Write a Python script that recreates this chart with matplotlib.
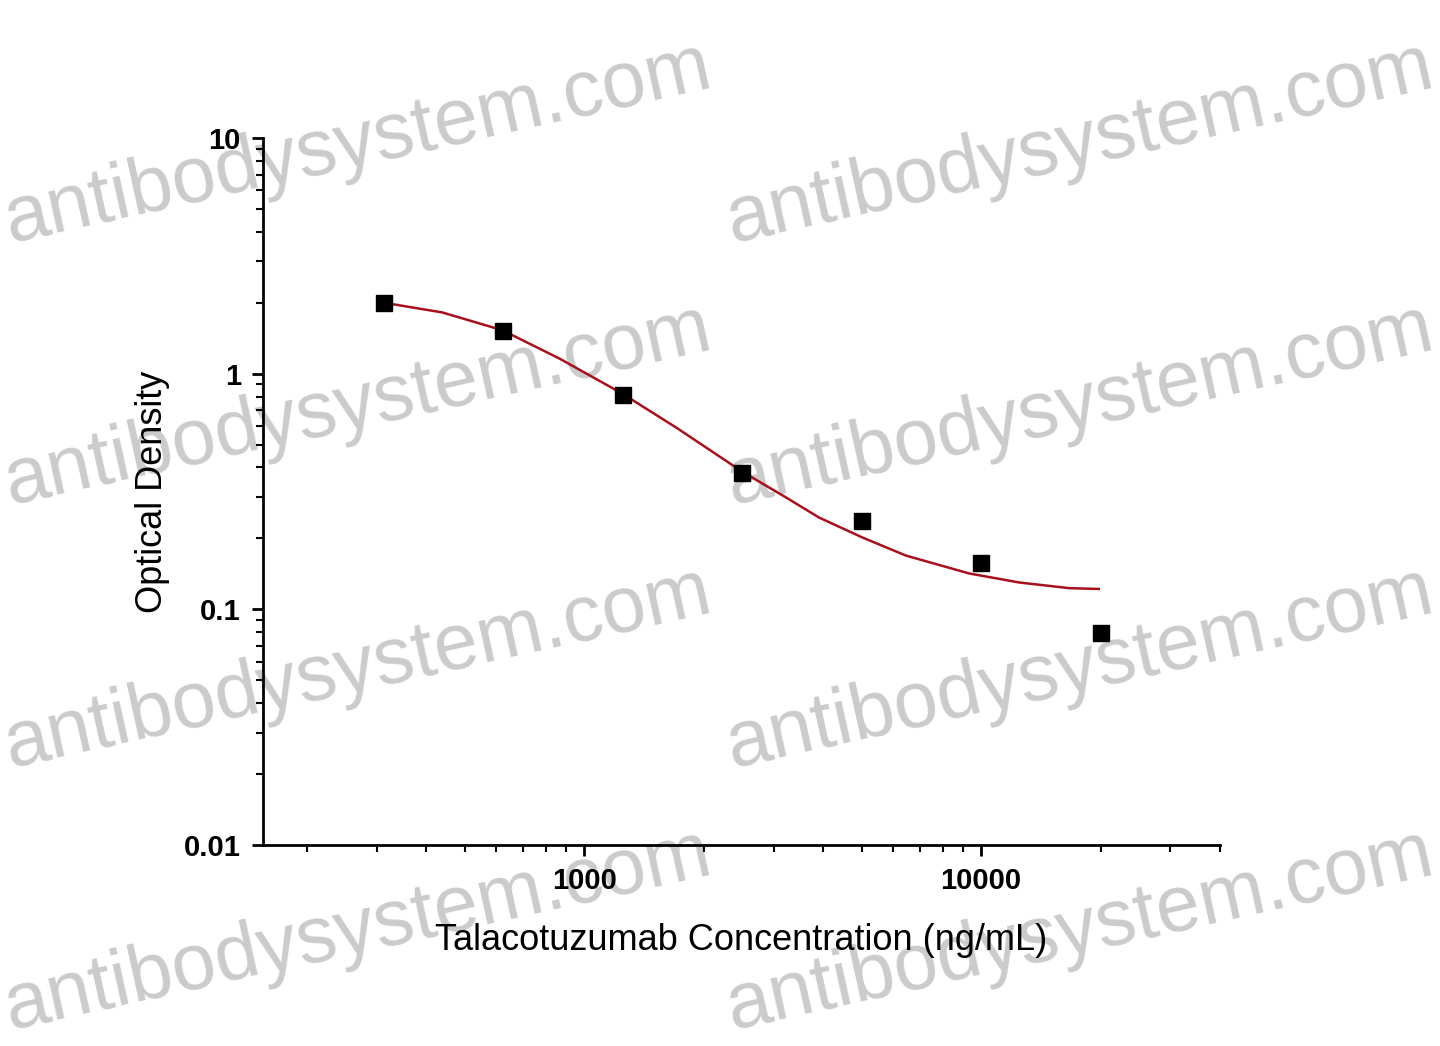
import matplotlib.pyplot as plt
from matplotlib.ticker import NullFormatter

plt.rcParams['font.family'] = ['Liberation Sans', 'DejaVu Sans']

# measured standards
conc = [312.5, 625, 1250, 2500, 5000, 10000, 20000]
od = [2.0, 1.52, 0.81, 0.38, 0.236, 0.157, 0.079]

# fitted curve
fit_conc = [312.5, 438, 621, 865, 1247, 1706, 2500, 3228, 3908, 5015, 6470, 9330, 12470, 16670, 19800]
fit_od = [2.0, 1.82, 1.53, 1.16, 0.823, 0.59, 0.384, 0.298, 0.245, 0.202, 0.169, 0.142, 0.130, 0.123, 0.122]

xticks = [1000, 10000]
xticklabels = ["1000", "10000"]
yticks = [0.01, 0.1, 1, 10]
yticklabels = ["0.01", "0.1", "1", "10"]

fig = plt.figure(figsize=(14.4, 10.46), dpi=100)
ax = fig.add_axes([263 / 1440, 1 - 845 / 1046, (1220 - 263) / 1440, (845 - 138) / 1046])
ax.set_facecolor('none')

# watermark behind the plot
wm_pos = [(10, 242), (10, 504), (10, 767), (10, 1029),
          (732, 242), (732, 504), (732, 767), (732, 1029)]
for px, py in wm_pos:
    fig.text(px / 1440, 1 - py / 1046, "antibodysystem.com", fontsize=57, color='#cbcbcb',
             rotation=12.5, rotation_mode='anchor', ha='left', va='baseline', zorder=-1)

ax.plot(fit_conc, fit_od, color='#a8101c', lw=1.8, zorder=2)
ax.plot(conc, od, 's', color='black', ms=11, zorder=3)

ax.set_xscale('log')
ax.set_yscale('log')
ax.set_xlim(155, 40000)
ax.set_ylim(0.01, 10)
ax.set_xticks(xticks, labels=xticklabels)
ax.set_yticks(yticks, labels=yticklabels)
ax.xaxis.set_minor_formatter(NullFormatter())
ax.yaxis.set_minor_formatter(NullFormatter())
for lab in ax.get_xticklabels() + ax.get_yticklabels():
    lab.set_fontweight('bold')

for s in ['top', 'right']:
    ax.spines[s].set_visible(False)
for s in ['left', 'bottom']:
    ax.spines[s].set_linewidth(2)
ax.tick_params(which='major', length=8, width=2, labelsize=21, pad=8)
ax.tick_params(which='minor', length=5, width=1.5)

ax.set_xlabel("Talacotuzumab Concentration (ng/mL)", fontsize=26, labelpad=20)
ax.set_ylabel("Optical Density", fontsize=26, labelpad=10)

fig.savefig("out.png", dpi=100)
